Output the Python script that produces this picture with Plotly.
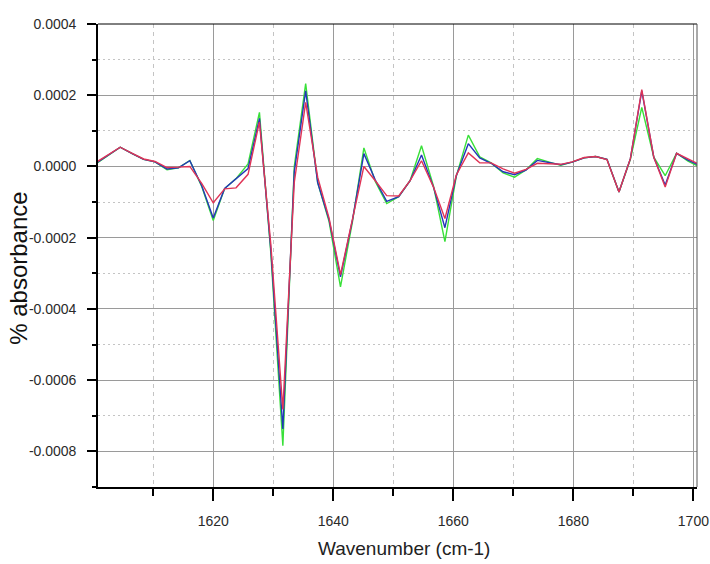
import numpy as np
import plotly.graph_objects as go

# Wavenumber grid (cm-1)
wavenumber = [
    1600.7, 1602.6, 1604.5, 1606.5, 1608.4, 1610.3, 1612.3, 1614.2, 1616.1, 1618.1,
    1620.0, 1621.9, 1623.8, 1625.8, 1627.7, 1629.6, 1631.6, 1633.5, 1635.4, 1637.4,
    1639.3, 1641.2, 1643.2, 1645.1, 1647.0, 1648.9, 1650.9, 1652.8, 1654.7, 1656.7,
    1658.6, 1660.5, 1662.5, 1664.4, 1666.3, 1668.3, 1670.2, 1672.1, 1674.0, 1676.0,
    1677.9, 1679.8, 1681.8, 1683.7, 1685.6, 1687.6, 1689.5, 1691.4, 1693.4, 1695.3,
    1697.2, 1699.1, 1701.1,
]

# Absorbance spectra, in units of 1e-4
green_e4 = [
    0.10, 0.33, 0.54, 0.36, 0.20, 0.13, -0.09, -0.04, 0.17, -0.57,
    -1.52, -0.62, -0.34, 0.07, 1.52, -2.45, -7.84, 0.00, 2.33, -0.45,
    -1.55, -3.38, -1.55, 0.52, -0.42, -1.04, -0.85, -0.40, 0.58, -0.55,
    -2.11, -0.27, 0.88, 0.27, 0.10, -0.18, -0.30, -0.10, 0.22, 0.12,
    0.03, 0.12, 0.24, 0.28, 0.20, -0.72, 0.20, 1.66, 0.26, -0.26,
    0.37, 0.15, -0.02,
]
blue_e4 = [
    0.12, 0.33, 0.54, 0.36, 0.20, 0.13, -0.07, -0.04, 0.16, -0.55,
    -1.45, -0.62, -0.36, -0.06, 1.35, -2.35, -7.37, -0.15, 2.12, -0.45,
    -1.50, -3.10, -1.50, 0.36, -0.38, -0.98, -0.85, -0.40, 0.32, -0.58,
    -1.72, -0.26, 0.64, 0.24, 0.09, -0.15, -0.23, -0.10, 0.17, 0.11,
    0.05, 0.12, 0.24, 0.28, 0.20, -0.72, 0.22, 2.12, 0.26, -0.52,
    0.37, 0.18, 0.02,
]
red_e4 = [
    0.14, 0.33, 0.54, 0.37, 0.21, 0.14, -0.03, -0.02, 0.00, -0.48,
    -1.02, -0.63, -0.60, -0.22, 1.25, -2.20, -6.82, -0.45, 1.80, -0.30,
    -1.45, -3.04, -1.50, 0.00, -0.40, -0.82, -0.83, -0.40, 0.16, -0.58,
    -1.46, -0.24, 0.38, 0.10, 0.10, -0.07, -0.19, -0.08, 0.09, 0.07,
    0.06, 0.13, 0.25, 0.28, 0.19, -0.72, 0.22, 2.16, 0.26, -0.58,
    0.37, 0.21, 0.05,
]

y_tickvals = [0.0004, 0.0002, 0.0, -0.0002, -0.0004, -0.0006, -0.0008]
y_ticktext = ["0.0004", "0.0002", "0.0000", "-0.0002", "-0.0004", "-0.0006", "-0.0008"]
x_tickvals = [1620, 1640, 1660, 1680, 1700]
x_ticktext = ["1620", "1640", "1660", "1680", "1700"]

series = [
    ("green", green_e4, "#38e038"),
    ("blue", blue_e4, "#2436b8"),
    ("red", red_e4, "#e03456"),
]

fig = go.Figure()
for name, vals, color in series:
    fig.add_trace(go.Scatter(
        x=wavenumber,
        y=np.array(vals) * 1e-4,
        mode="lines",
        name=name,
        line=dict(color=color, width=1.4),
        showlegend=False,
    ))

tick_font = dict(family="Liberation Sans, Arial, sans-serif", size=14, color="#2a2a2a")

fig.update_xaxes(
    range=[1600.8, 1700.6],
    automargin=False,
    tickmode="array", tickvals=x_tickvals, ticktext=x_ticktext,
    ticks="outside", ticklen=12, tickwidth=2, tickcolor="black",
    showline=True, linecolor="black", linewidth=2,
    showgrid=True, gridcolor="#9a9a9a", gridwidth=1,
    minor=dict(dtick=10, tick0=1600, ticks="outside", ticklen=7, tickwidth=2,
               tickcolor="black", showgrid=True, gridcolor="#c4c4c4",
               griddash="4px,4px", gridwidth=1),
    tickfont=tick_font, ticklabelposition="outside", ticklabelstandoff=8,
    zeroline=False,
)
fig.update_yaxes(
    range=[-0.0009, 0.0004],
    automargin=False,
    tickmode="array", tickvals=y_tickvals,
    # non-breaking spaces keep the labels clear of the tick marks
    ticktext=[t + "\u00a0\u00a0" for t in y_ticktext],
    ticks="outside", ticklen=9, tickwidth=2, tickcolor="black",
    showline=True, linecolor="black", linewidth=2,
    showgrid=True, gridcolor="#9a9a9a", gridwidth=1,
    minor=dict(dtick=0.0001, tick0=0, ticks="outside", ticklen=4, tickwidth=2,
               tickcolor="black", showgrid=True, gridcolor="#c4c4c4",
               griddash="2px,3px", gridwidth=1),
    tickfont=tick_font,
    zeroline=False,
)

# thin frame on the top and right edges
fig.add_shape(type="line", xref="paper", yref="paper", x0=0, x1=1, y0=1, y1=1,
              line=dict(color="black", width=1))
fig.add_shape(type="line", xref="paper", yref="paper", x0=1, x1=1, y0=0, y1=1,
              line=dict(color="#555555", width=1))

fig.add_annotation(text="Wavenumber (cm-1)", xref="paper", yref="paper",
                   x=0.511, y=-0.132, xanchor="center", yanchor="middle",
                   showarrow=False,
                   font=dict(family="Liberation Sans, Arial, sans-serif",
                             size=19, color="#222222"))
fig.add_annotation(text="% absorbance", xref="paper", yref="paper",
                   x=-0.133, y=0.472, xanchor="center", yanchor="middle",
                   textangle=-90, showarrow=False,
                   font=dict(family="Liberation Sans, Arial, sans-serif",
                             size=24, color="#111111"))

fig.update_layout(
    width=710, height=564,
    margin=dict(l=98, r=13, t=24, b=77),
    paper_bgcolor="white", plot_bgcolor="white",
)

fig.write_html("out.html")
